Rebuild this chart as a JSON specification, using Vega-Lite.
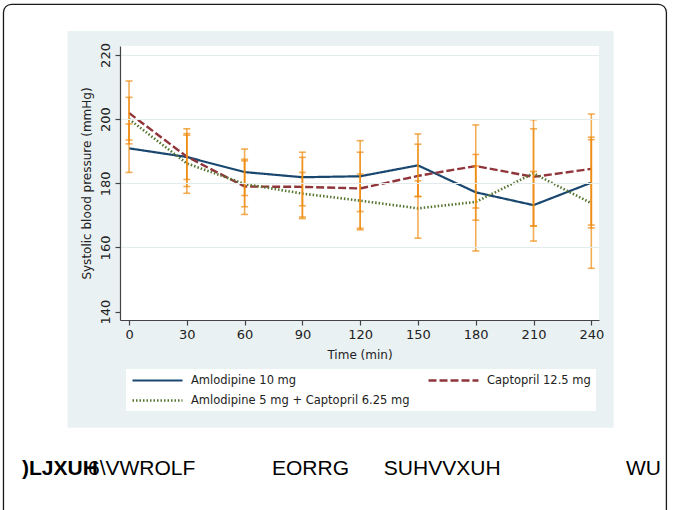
{
  "$schema": "https://vega.github.io/schema/vega-lite/v6.json",
  "autosize": {"type": "none"},
  "padding": {"left": 120, "top": 46, "right": 76, "bottom": 190},
  "width": 479,
  "height": 274,
  "background": "white",
  "datasets": {
    "sbp": [
      {"time": 0, "group": "Amlodipine 10 mg", "sbp": 190.9, "lo": 183.4, "hi": 198.5},
      {"time": 30, "group": "Amlodipine 10 mg", "sbp": 188.2, "lo": 179.0, "hi": 197.0},
      {"time": 60, "group": "Amlodipine 10 mg", "sbp": 183.5, "lo": 176.2, "hi": 190.7},
      {"time": 90, "group": "Amlodipine 10 mg", "sbp": 181.9, "lo": 173.0, "hi": 189.7},
      {"time": 120, "group": "Amlodipine 10 mg", "sbp": 182.2, "lo": 171.2, "hi": 193.3},
      {"time": 150, "group": "Amlodipine 10 mg", "sbp": 185.6, "lo": 175.9, "hi": 195.4},
      {"time": 180, "group": "Amlodipine 10 mg", "sbp": 177.2, "lo": 168.5, "hi": 185.4},
      {"time": 210, "group": "Amlodipine 10 mg", "sbp": 173.2, "lo": 162.0, "hi": 183.7},
      {"time": 240, "group": "Amlodipine 10 mg", "sbp": 180.2, "lo": 166.1, "hi": 193.6},
      {"time": 0, "group": "Captopril 12.5 mg", "sbp": 201.9, "lo": 192.3, "hi": 211.9},
      {"time": 30, "group": "Captopril 12.5 mg", "sbp": 188.3, "lo": 181.2, "hi": 195.5},
      {"time": 60, "group": "Captopril 12.5 mg", "sbp": 179.0, "lo": 170.3, "hi": 187.5},
      {"time": 90, "group": "Captopril 12.5 mg", "sbp": 178.9, "lo": 169.0, "hi": 188.1},
      {"time": 120, "group": "Captopril 12.5 mg", "sbp": 178.4, "lo": 166.0, "hi": 189.7},
      {"time": 150, "group": "Captopril 12.5 mg", "sbp": 182.3, "lo": 175.9, "hi": 192.2},
      {"time": 180, "group": "Captopril 12.5 mg", "sbp": 185.4, "lo": 172.3, "hi": 198.2},
      {"time": 210, "group": "Captopril 12.5 mg", "sbp": 182.0, "lo": 166.7, "hi": 197.0},
      {"time": 240, "group": "Captopril 12.5 mg", "sbp": 184.5, "lo": 167.0, "hi": 201.6},
      {"time": 0, "group": "Amlodipine 5 mg + Captopril 6.25 mg", "sbp": 200.0, "lo": 193.5, "hi": 206.8},
      {"time": 30, "group": "Amlodipine 5 mg + Captopril 6.25 mg", "sbp": 186.2, "lo": 176.9, "hi": 195.0},
      {"time": 60, "group": "Amlodipine 5 mg + Captopril 6.25 mg", "sbp": 179.8, "lo": 172.7, "hi": 187.0},
      {"time": 90, "group": "Amlodipine 5 mg + Captopril 6.25 mg", "sbp": 176.8, "lo": 169.5, "hi": 183.4},
      {"time": 120, "group": "Amlodipine 5 mg + Captopril 6.25 mg", "sbp": 174.6, "lo": 165.5, "hi": 182.9},
      {"time": 150, "group": "Amlodipine 5 mg + Captopril 6.25 mg", "sbp": 172.2, "lo": 162.9, "hi": 180.8},
      {"time": 180, "group": "Amlodipine 5 mg + Captopril 6.25 mg", "sbp": 174.2, "lo": 158.9, "hi": 189.0},
      {"time": 210, "group": "Amlodipine 5 mg + Captopril 6.25 mg", "sbp": 183.1, "lo": 166.7, "hi": 199.8},
      {"time": 240, "group": "Amlodipine 5 mg + Captopril 6.25 mg", "sbp": 173.8, "lo": 153.5, "hi": 194.4}
    ],
    "one": [{}]
  },
  "layer": [
    {
      "data": {"name": "one"},
      "mark": {"type": "rect", "fill": "#eaf1f3", "clip": false},
      "encoding": {
        "x": {"datum": -31.9, "type": "quantitative"},
        "x2": {"datum": 251.6},
        "y": {"datum": 227.5, "type": "quantitative"},
        "y2": {"datum": 103.85}
      }
    },
    {
      "data": {"name": "one"},
      "mark": {"type": "rect", "fill": "white", "clip": false},
      "encoding": {
        "x": {"datum": -4.7, "type": "quantitative"},
        "x2": {"datum": 244},
        "y": {"datum": 222.8, "type": "quantitative"},
        "y2": {"datum": 137.4}
      }
    },
    {
      "data": {"name": "one"},
      "mark": {"type": "rect", "fill": null, "fillOpacity": 0, "stroke": "#1a1a1a", "strokeWidth": 1.3, "cornerRadius": 8, "clip": false},
      "encoding": {
        "x": {"datum": -65.2, "type": "quantitative"},
        "x2": {"datum": 279},
        "y": {"datum": 235.8, "type": "quantitative"},
        "y2": {"datum": 70}
      }
    },
    {
      "data": {"name": "sbp"},
      "mark": {"type": "line", "clip": false},
      "encoding": {
        "x": {
          "field": "time", "type": "quantitative", "title": "Time (min)",
          "scale": {"domain": [-4.7, 244], "nice": false, "zero": false},
          "axis": {"title": "Time (min)", "values": [0, 30, 60, 90, 120, 150, 180, 210, 240], "grid": false, "labelPadding": 3, "titlePadding": 8, "labelFlush": false, "zindex": 2}
        },
        "y": {
          "field": "sbp", "type": "quantitative", "title": "Systolic blood pressure (mmHg)",
          "scale": {"domain": [137.4, 222.8], "nice": false, "zero": false},
          "axis": {
            "title": "Systolic blood pressure (mmHg)",
            "values": [140, 160, 180, 200, 220],
            "labelAngle": 270, "labelAlign": "center", "labelBaseline": "bottom",
            "labelPadding": 3, "titlePadding": 6,
            "grid": true,
            "gridColor": {"condition": {"test": "datum.value == 140", "value": "transparent"}, "value": "#e4ebed"},
            "labelFlush": false, "zindex": 2
          }
        },
        "color": {
          "field": "group", "type": "nominal",
          "scale": {"domain": ["Amlodipine 10 mg", "Captopril 12.5 mg", "Amlodipine 5 mg + Captopril 6.25 mg"], "range": ["#1a476f", "#90353b", "#55752f"]},
          "legend": {"title": null, "orient": "none", "legendX": 6, "legendY": 323, "columns": 2, "direction": "horizontal"}
        },
        "strokeDash": {
          "field": "group", "type": "nominal",
          "scale": {"domain": ["Amlodipine 10 mg", "Captopril 12.5 mg", "Amlodipine 5 mg + Captopril 6.25 mg"], "range": [[1, 0], [8, 3], [1.5, 2]]},
          "legend": {"title": null, "orient": "none", "legendX": 6, "legendY": 323, "columns": 2, "direction": "horizontal"}
        },
        "strokeWidth": {
          "field": "group", "type": "nominal",
          "scale": {"domain": ["Amlodipine 10 mg", "Captopril 12.5 mg", "Amlodipine 5 mg + Captopril 6.25 mg"], "range": [2.2, 2.6, 1.6]},
          "legend": {"title": null, "orient": "none", "legendX": 6, "legendY": 323, "columns": 2, "direction": "horizontal"}
        }
      }
    },
    {
      "data": {"name": "sbp"},
      "mark": {"type": "errorbar", "ticks": {"size": 7}, "color": "#ee8a0e", "opacity": 0.7, "thickness": 1.6},
      "encoding": {
        "x": {"field": "time", "type": "quantitative", "title": "Time (min)"},
        "y": {"field": "lo", "type": "quantitative", "title": "Systolic blood pressure (mmHg)"},
        "y2": {"field": "hi"}
      }
    },
    {
      "data": {"name": "one"},
      "mark": {"type": "text", "text": ")LJXUH", "font": "Liberation Sans", "fontSize": 21, "fontWeight": "bold", "align": "left", "baseline": "alphabetic", "color": "#000000", "clip": false},
      "encoding": {
        "x": {"datum": -55.6, "type": "quantitative"},
        "y": {"datum": 89.1, "type": "quantitative"}
      }
    },
    {
      "data": {"name": "one"},
      "mark": {"type": "text", "text": "6\\VWROLF", "font": "Liberation Sans", "fontSize": 21, "align": "left", "baseline": "alphabetic", "color": "#000000", "clip": false},
      "encoding": {
        "x": {"datum": -21.3, "type": "quantitative"},
        "y": {"datum": 89.1, "type": "quantitative"}
      }
    },
    {
      "data": {"name": "one"},
      "mark": {"type": "text", "text": "EORRG", "font": "Liberation Sans", "fontSize": 21, "align": "left", "baseline": "alphabetic", "color": "#000000", "clip": false},
      "encoding": {
        "x": {"datum": 74.2, "type": "quantitative"},
        "y": {"datum": 89.1, "type": "quantitative"}
      }
    },
    {
      "data": {"name": "one"},
      "mark": {"type": "text", "text": "SUHVVXUH", "font": "Liberation Sans", "fontSize": 21, "align": "left", "baseline": "alphabetic", "color": "#000000", "clip": false},
      "encoding": {
        "x": {"datum": 132.3, "type": "quantitative"},
        "y": {"datum": 89.1, "type": "quantitative"}
      }
    },
    {
      "data": {"name": "one"},
      "mark": {"type": "text", "text": "WU", "font": "Liberation Sans", "fontSize": 21, "align": "left", "baseline": "alphabetic", "color": "#000000", "clip": false},
      "encoding": {
        "x": {"datum": 258.0, "type": "quantitative"},
        "y": {"datum": 89.1, "type": "quantitative"}
      }
    }
  ],
  "config": {
    "view": {"stroke": null, "fill": null},
    "font": "DejaVu Sans",
    "axis": {
      "domainColor": "#444444", "tickColor": "#444444", "labelColor": "#222222", "titleColor": "#222222",
      "labelFont": "DejaVu Sans", "titleFont": "DejaVu Sans", "labelFontSize": 13, "titleFontSize": 12,
      "titleFontWeight": "normal", "tickSize": 5, "domainWidth": 1.2, "tickWidth": 1.2, "gridWidth": 1
    },
    "legend": {
      "fillColor": "white", "padding": 5, "symbolType": "M-1,0H9", "symbolSize": 100,
      "labelFont": "DejaVu Sans", "labelFontSize": 11.5, "labelColor": "#222222", "labelOffset": 47,
      "columnPadding": 13, "rowPadding": 8, "labelLimit": 400
    }
  }
}
